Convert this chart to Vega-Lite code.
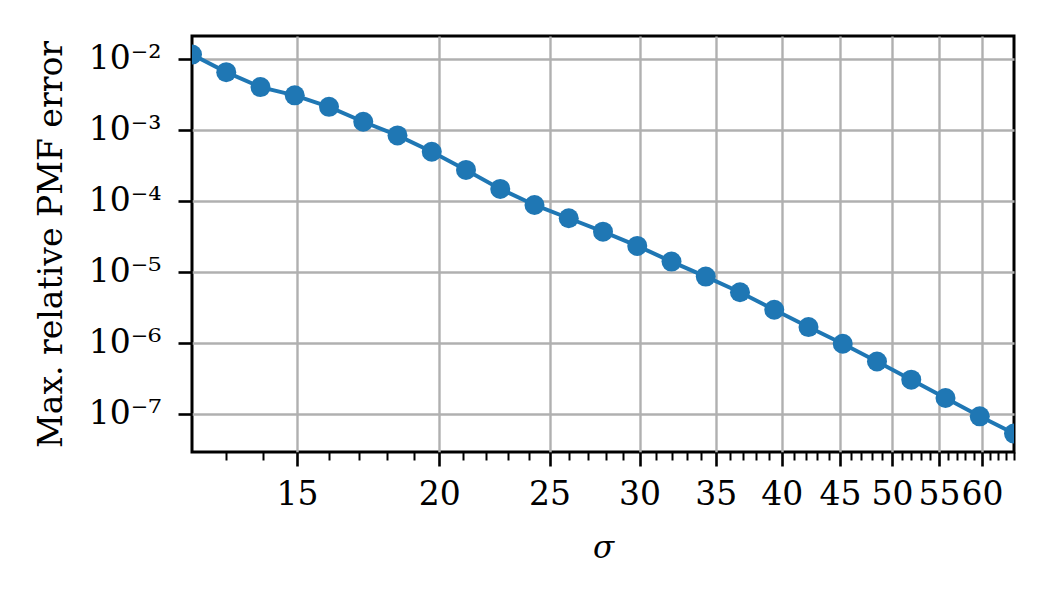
{
  "$schema": "https://vega.github.io/schema/vega-lite/v6.json",
  "autosize": {"type": "none"},
  "padding": {"left": 192, "top": 36, "right": 36, "bottom": 148},
  "width": 822,
  "height": 416,
  "background": "white",
  "config": {
    "font": "DejaVu Serif",
    "view": {"stroke": "black", "strokeWidth": 3}
  },
  "data": {
    "values": [
      {"sigma": 12.1257, "err": 1.15e-2},
      {"sigma": 12.9960, "err": 6.50e-3},
      {"sigma": 13.9288, "err": 4.00e-3},
      {"sigma": 14.9285, "err": 3.06e-3},
      {"sigma": 16.0000, "err": 2.11e-3},
      {"sigma": 17.1484, "err": 1.30e-3},
      {"sigma": 18.3792, "err": 8.35e-4},
      {"sigma": 19.6983, "err": 4.91e-4},
      {"sigma": 21.1121, "err": 2.72e-4},
      {"sigma": 22.6274, "err": 1.47e-4},
      {"sigma": 24.2515, "err": 8.73e-5},
      {"sigma": 25.9921, "err": 5.67e-5},
      {"sigma": 27.8576, "err": 3.67e-5},
      {"sigma": 29.8571, "err": 2.31e-5},
      {"sigma": 32.0000, "err": 1.39e-5},
      {"sigma": 34.2968, "err": 8.55e-6},
      {"sigma": 36.7583, "err": 5.13e-6},
      {"sigma": 39.3966, "err": 2.91e-6},
      {"sigma": 42.2243, "err": 1.66e-6},
      {"sigma": 45.2548, "err": 9.66e-7},
      {"sigma": 48.5029, "err": 5.44e-7},
      {"sigma": 51.9842, "err": 3.01e-7},
      {"sigma": 55.7152, "err": 1.66e-7},
      {"sigma": 59.7141, "err": 9.16e-8},
      {"sigma": 64.0000, "err": 5.24e-8}
    ]
  },
  "encoding": {
    "x": {
      "field": "sigma",
      "type": "quantitative",
      "scale": {"type": "log", "domain": [12.1257, 64], "nice": false, "zero": false},
      "axis": {
        "title": "σ",
        "titleFont": "DejaVu Serif",
        "titleFontStyle": "italic",
        "titleFontWeight": "normal",
        "titleFontSize": 31,
        "titlePadding": 22,
        "values": [13, 14, 15, 16, 17, 18, 19, 20, 21, 22, 23, 24, 25, 26, 27, 28, 29, 30, 31, 32, 33, 34, 35, 36, 37, 38, 39, 40, 41, 42, 43, 44, 45, 46, 47, 48, 49, 50, 51, 52, 53, 54, 55, 56, 57, 58, 59, 60, 61, 62, 63, 64],
        "format": "d",
        "labelExpr": "datum.value % 5 === 0 ? datum.label : ''",
        "labelOverlap": false,
        "labelFlush": false,
        "labelBound": false,
        "labelFontSize": 33,
        "labelColor": "black",
        "labelPadding": 12,
        "domain": false,
        "grid": true,
        "gridColor": "#b0b0b0",
        "gridWidth": 2.4,
        "gridOpacity": {"condition": {"test": "datum.value % 5 === 0", "value": 1}, "value": 0},
        "tickColor": "black",
        "tickSize": {"condition": {"test": "datum.value % 5 === 0", "value": 14}, "value": 8},
        "tickWidth": {"condition": {"test": "datum.value % 5 === 0", "value": 2.6}, "value": 2}
      }
    },
    "y": {
      "field": "err",
      "type": "quantitative",
      "scale": {"type": "log", "domain": [2.88e-8, 2.1e-2], "nice": false, "zero": false},
      "axis": {
        "title": "Max. relative PMF error",
        "titleFont": "DejaVu Serif",
        "titleFontWeight": "normal",
        "titleFontSize": 33,
        "titlePadding": 20,
        "values": [1e-7, 1e-6, 1e-5, 1e-4, 1e-3, 1e-2],
        "labelExpr": "'10⁻' + ['⁰','¹','²','³','⁴','⁵','⁶','⁷','⁸','⁹'][round(-log(datum.value) / LN10)]",
        "labelFontSize": 33,
        "labelColor": "black",
        "labelPadding": 17,
        "domain": false,
        "grid": true,
        "gridColor": "#b0b0b0",
        "gridWidth": 2.4,
        "tickColor": "black",
        "tickSize": 14,
        "tickWidth": 2.6
      }
    }
  },
  "layer": [
    {
      "mark": {"type": "line", "color": "#1f77b4", "strokeWidth": 4, "clip": true}
    },
    {
      "mark": {"type": "point", "shape": "circle", "filled": true, "opacity": 1, "color": "#1f77b4", "size": 400, "clip": true}
    }
  ]
}
